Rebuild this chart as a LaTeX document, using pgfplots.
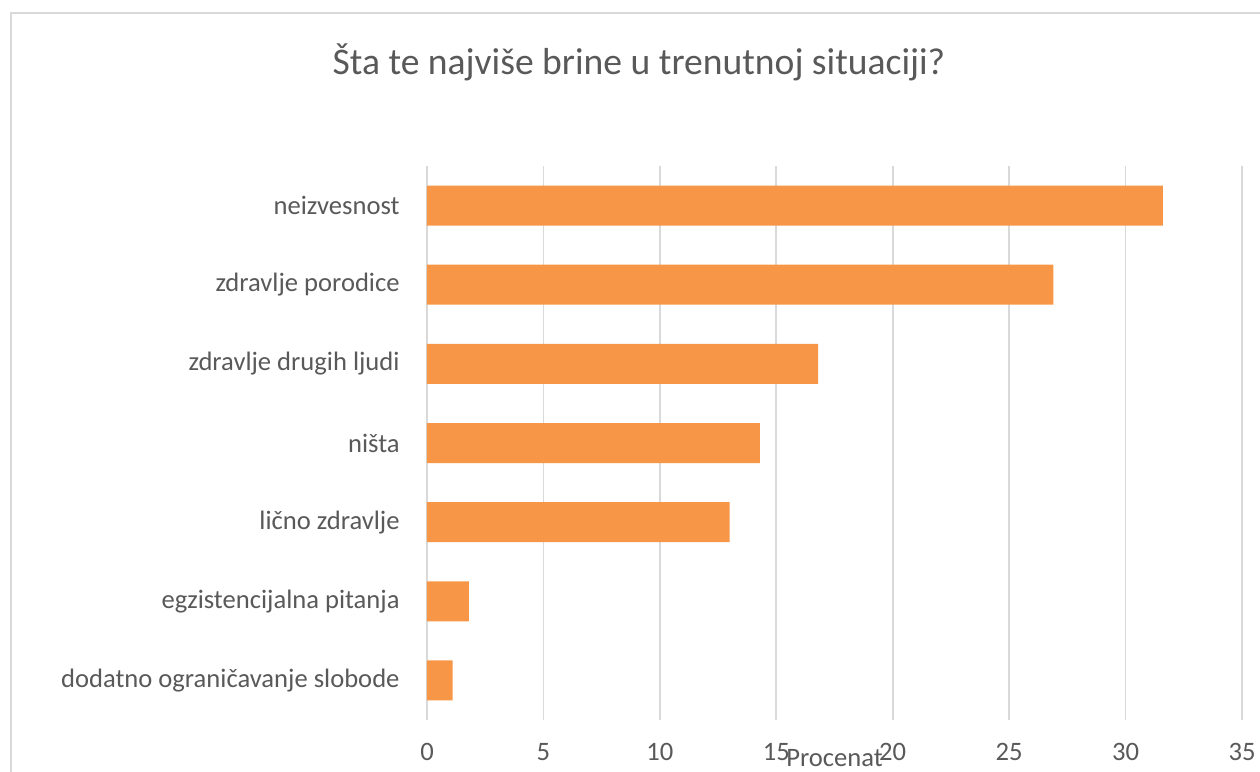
\documentclass[border=0pt]{standalone}
\usepackage{pgfplots}
\pgfplotsset{compat=1.18}
\usepackage{fontspec}
\setmainfont{Carlito}
\definecolor{barorange}{HTML}{F79646}
\definecolor{gridgray}{HTML}{D9D9D9}
\definecolor{textgray}{HTML}{595959}

\begin{document}
\begin{tikzpicture}
% page = 1260x772 px at 0.5pt per px
\useasboundingbox (0,0) rectangle (630pt,386pt);
\begin{scope}
\clip (0,0) rectangle (630pt,386pt);
\draw[gridgray, line width=1pt] (5.5pt,-10pt) rectangle (640pt,379.5pt);
\end{scope}
\begin{axis}[
    at={(213.5pt,26pt)}, anchor=south west,
    scale only axis,
    width=407.5pt, height=277pt,
    xbar,
    bar width=20pt,
    xmin=0, xmax=35,
    ymin=-0.5, ymax=6.5,
    xtick={0,5,...,35},
    ytick={0,1,2,3,4,5,6},
    yticklabels={dodatno ograničavanje slobode,egzistencijalna pitanja,lično zdravlje,ništa,zdravlje drugih ljudi,zdravlje porodice,neizvesnost},
    xmajorgrids,
    grid style={gridgray, line width=0.8pt},
    axis line style={draw=none},
    major tick length=0pt,
    /pgf/number format/assume math mode=true,
    tick label style={font=\fontsize{13.3}{15}\selectfont, text=textgray},
    xticklabel style={anchor=center, yshift=-16pt},
    yticklabel style={anchor=east, inner sep=0pt, xshift=-13.5pt},
    title={Šta te najviše brine u trenutnoj situaciji?},
    title style={at={(axis description cs:0.5,1)}, anchor=center, yshift=46pt, xshift=-97.75pt, font=\fontsize{18.8}{22}\selectfont, text=textgray},
    xlabel={Procenat},
    xlabel style={at={(axis description cs:0.5,0)}, anchor=center, inner sep=0pt, yshift=-19pt, font=\fontsize{13.3}{15}\selectfont, text=textgray},
]
\addplot[fill=barorange, draw=none] coordinates {
    (1.1,0)
    (1.8,1)
    (13.0,2)
    (14.3,3)
    (16.8,4)
    (26.9,5)
    (31.6,6)
};
\end{axis}
\end{tikzpicture}
\end{document}
